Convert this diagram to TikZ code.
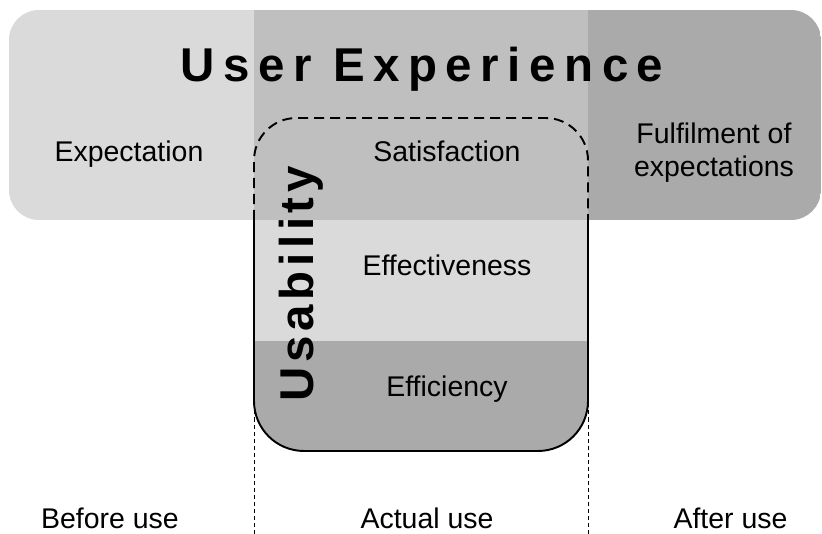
\documentclass[tikz,border=0pt]{standalone}
\usepackage{fontspec}
\setmainfont{Liberation Sans}
\definecolor{lightband}{gray}{0.855}
\definecolor{midband}{gray}{0.75}
\definecolor{darkband}{gray}{0.667}

\begin{document}
\begin{tikzpicture}[scale=1,
  phase/.style={font=\fontsize{16.2}{18.8}\selectfont, inner sep=0pt},
  heading/.style={font=\fontsize{27}{30}\selectfont\bfseries, inner sep=0pt}]

\useasboundingbox (0,0) rectangle (16.44,10.68);

% top band: before / during / after
\begin{scope}
\clip[rounded corners=0.6cm] (0.18,6.28) rectangle (16.42,10.48);
\fill[lightband] (0.18,6.28) rectangle (5.08,10.48);
\fill[midband] (5.08,6.28) rectangle (11.76,10.48);
\fill[darkband] (11.76,6.28) rectangle (16.42,10.48);
\end{scope}

% thin phase dividers
\draw[line width=0.5pt, dash pattern=on 2.3pt off 1.7pt] (5.08,0) -- (5.08,2.6);
\draw[line width=0.5pt, dash pattern=on 2.3pt off 1.7pt] (11.76,0) -- (11.76,2.6);

% usability block
\begin{scope}
\clip[rounded corners=1cm] (5.08,1.66) rectangle (11.76,8.32);
\fill[midband] (5.08,6.28) rectangle (11.76,8.32);
\fill[lightband] (5.08,3.86) rectangle (11.76,6.28);
\fill[darkband] (5.08,1.66) rectangle (11.76,3.86);
\end{scope}
\draw[line width=1.1pt, dash pattern=on 5.7pt off 3.4pt, rounded corners=0.85cm]
  (5.08,6.28) -- (5.08,8.32) -- (11.76,8.32) -- (11.76,6.28);
\draw[line width=1.1pt, rounded corners=1cm]
  (5.08,6.28) -- (5.08,1.66) -- (11.76,1.66) -- (11.76,6.28);

\node[heading, anchor=base] (ux) at (8.44,9.04) {\addfontfeature{LetterSpace=18}User Experience};
\node[heading, anchor=base, rotate=90] (usab) at (6.26,5.0) {\addfontfeature{LetterSpace=10}Usability};

\node[phase, anchor=base] (expect) at (2.58,7.44) {Expectation};
\node[phase, anchor=base] (satis) at (8.94,7.44) {Satisfaction};
\node[phase, align=center] (fulfil) at (14.28,7.62) {Fulfilment of\\expectations};
\node[phase, anchor=base] (effect) at (8.94,5.16) {Effectiveness};
\node[phase, anchor=base] (effic) at (8.94,2.74) {Efficiency};

\node[phase, anchor=base] (before) at (2.2,0.1) {Before use};
\node[phase, anchor=base] (actual) at (8.54,0.1) {Actual use};
\node[phase, anchor=base] (after) at (14.61,0.1) {After use};
\end{tikzpicture}
\end{document}
